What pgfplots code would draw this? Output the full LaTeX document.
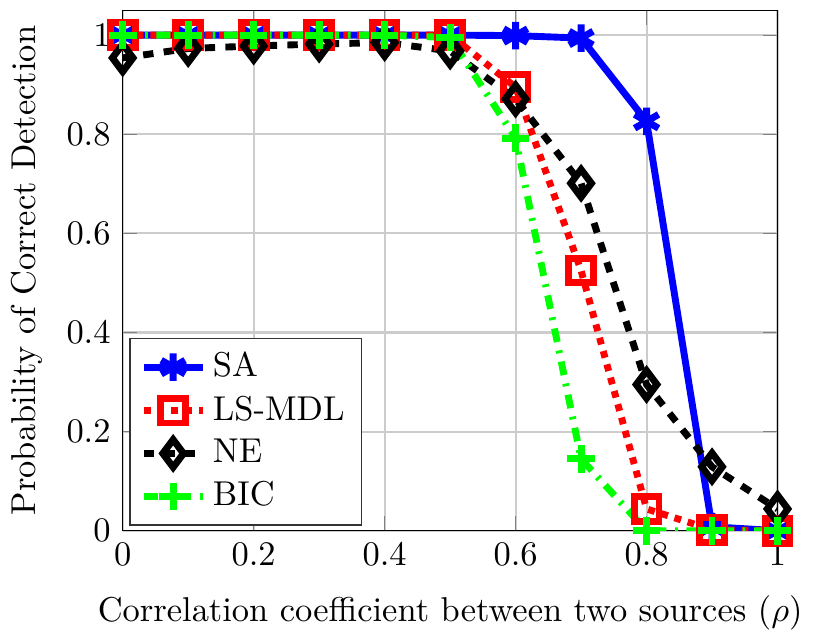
\documentclass[border=0pt]{standalone}
\usepackage{pgfplots}
\pgfplotsset{compat=1.18}

\begin{document}
\begin{tikzpicture}
\begin{axis}[
  name=main,
  scale only axis,
  width=190pt, height=151pt,
  xmin=0, xmax=1, ymin=0, ymax=1.05,
  xtick={0,0.2,0.4,0.6,0.8,1},
  ytick={0,0.2,0.4,0.6,0.8,1},
  grid=major,
  grid style={gray!40, line width=0.6pt},
  xlabel={Correlation coefficient between two sources ($\rho$)},
  xlabel style={yshift=-2pt},
  ylabel={Probability of Correct Detection},
  tick label style={font=\normalsize},
  legend style={at={(0.01,0.01)}, anchor=south west, font=\normalsize,
    draw=black!80},
  legend cell align=left,
  every axis plot/.append style={line width=2pt},
]
\addplot[blue, solid, mark=asterisk, mark size=4pt, mark options={solid}]
  coordinates {(0,1) (0.1,1) (0.2,1) (0.3,1) (0.4,1) (0.5,1) (0.6,0.999)
               (0.7,0.994) (0.8,0.826) (0.9,0.008) (1,0)};
\addlegendentry{SA}
\addplot[red, dotted, mark=square, mark size=3.6pt, mark options={solid}]
  coordinates {(0,1) (0.1,1) (0.2,1) (0.3,1) (0.4,1) (0.5,1) (0.6,0.895)
               (0.7,0.525) (0.8,0.044) (0.9,0.002) (1,0)};
\addlegendentry{LS-MDL}
\addplot[black, dashed, mark=diamond, mark size=4pt, mark options={solid}]
  coordinates {(0,0.954) (0.1,0.973) (0.2,0.978) (0.3,0.982) (0.4,0.985)
               (0.5,0.968) (0.6,0.871) (0.7,0.701) (0.8,0.295) (0.9,0.129) (1,0.044)};
\addlegendentry{NE}
\addplot[green, dash pattern=on 4pt off 2.5pt on 0.8pt off 2.5pt, mark=+, mark size=4pt, mark options={solid}]
  coordinates {(0,1) (0.1,1) (0.2,1) (0.3,1) (0.4,1) (0.5,0.995) (0.6,0.792)
               (0.7,0.145) (0.8,0) (0.9,0) (1,0)};
\addlegendentry{BIC}
\end{axis}
% a little headroom above the frame
\path ([yshift=3pt]main.north);
\end{tikzpicture}
\end{document}
